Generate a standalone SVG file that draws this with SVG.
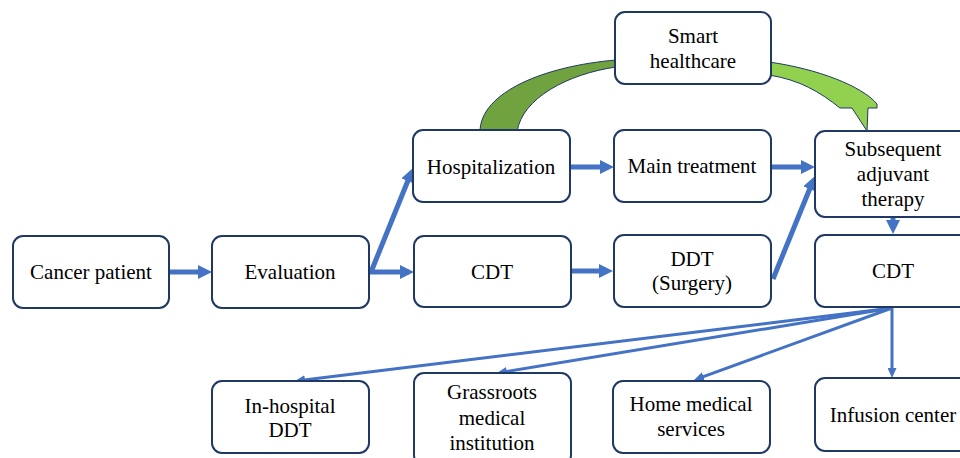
<svg xmlns="http://www.w3.org/2000/svg" width="960" height="458" viewBox="0 0 960 458">
<style>
.box{fill:#fff;stroke:#1F3864;stroke-width:2}
text{font-size:21px;fill:#000;text-anchor:middle}
.thick{stroke:#4472C4;stroke-width:5;fill:none}
.thin{stroke:#4472C4;stroke-width:3;fill:none}
.g1{fill:#70A33F;stroke:#1F3864;stroke-width:1}
.g2{fill:#92D050;stroke:#1F3864;stroke-width:1}
</style>
<defs>
<marker id="ah" markerUnits="userSpaceOnUse" markerWidth="14" markerHeight="14" refX="4" refY="7" orient="auto">
<path d="M0,0 L14,7 L0,14 z" fill="#4472C4"/>
</marker>
<marker id="as" markerUnits="userSpaceOnUse" markerWidth="10" markerHeight="9" refX="3" refY="4.5" orient="auto">
<path d="M0,0 L10,4.5 L0,9 z" fill="#4472C4"/>
</marker>
</defs>
<g id="connectors">
<path class="g1" d="M480,132 C480,92 545,66 616,60 L616,67 C568,74 522,98 517,132 Z"/>
<path class="g2" d="M769,62 C818,69 862,86 877,104 L877,108 L868,108 L867,131 L852,108 L840,108 C820,92 800,80 769,75 Z"/>
<line class="thick" x1="169" y1="272" x2="202" y2="272" marker-end="url(#ah)"/>
<line class="thick" x1="369" y1="272" x2="404" y2="272" marker-end="url(#ah)"/>
<line class="thick" x1="371" y1="272" x2="409.3" y2="177.3" marker-end="url(#ah)"/>
<line class="thick" x1="570" y1="167" x2="604" y2="167" marker-end="url(#ah)"/>
<line class="thick" x1="571" y1="271" x2="603" y2="271" marker-end="url(#ah)"/>
<line class="thick" x1="771" y1="167" x2="805" y2="167" marker-end="url(#ah)"/>
<line class="thick" x1="773" y1="279" x2="811.2" y2="185.3" marker-end="url(#ah)"/>
<line class="thick" x1="893" y1="217" x2="893" y2="224" marker-end="url(#ah)"/>
<line class="thin" x1="892" y1="308" x2="301.95" y2="380.16" marker-end="url(#as)"/>
<line class="thin" x1="892" y1="308" x2="503.9" y2="371.9" marker-end="url(#as)"/>
<line class="thin" x1="892" y1="308" x2="700.6" y2="377.6" marker-end="url(#as)"/>
<line class="thin" x1="892" y1="308" x2="892" y2="371" marker-end="url(#as)"/>
</g>
<g font-family="Liberation Serif, Times New Roman, serif">
<g id="cancer-patient"><rect class="box" x="13" y="236" width="156" height="72" rx="10"/><text x="91" y="279">Cancer patient</text></g>
<g id="evaluation"><rect class="box" x="212" y="236" width="157" height="72" rx="10"/><text x="290" y="279">Evaluation</text></g>
<g id="hospitalization"><rect class="box" x="413" y="130" width="157" height="72" rx="10"/><text x="491" y="174">Hospitalization</text></g>
<g id="cdt-mid"><rect class="box" x="414" y="236" width="157" height="71" rx="10"/><text x="492" y="279">CDT</text></g>
<g id="smart-healthcare"><rect class="box" x="615" y="12" width="156" height="72" rx="10"/><text x="693" y="43">Smart</text><text x="693" y="68">healthcare</text></g>
<g id="main-treatment"><rect class="box" x="614" y="130" width="157" height="72" rx="10"/><text x="692" y="173">Main treatment</text></g>
<g id="ddt-surgery"><rect class="box" x="614" y="235" width="157" height="72" rx="10"/><text x="692" y="266">DDT</text><text x="692" y="290">(Surgery)</text></g>
<g id="subsequent"><rect class="box" x="815" y="131" width="156" height="86" rx="10"/><text x="893" y="156">Subsequent</text><text x="893" y="181">adjuvant</text><text x="893" y="206">therapy</text></g>
<g id="cdt-right"><rect class="box" x="815" y="235" width="156" height="72" rx="10"/><text x="893" y="278">CDT</text></g>
<g id="in-hospital-ddt"><rect class="box" x="212" y="381" width="157" height="72" rx="10"/><text x="290" y="413">In-hospital</text><text x="290" y="437">DDT</text></g>
<g id="grassroots"><rect class="box" x="414" y="373" width="157" height="92" rx="10"/><text x="492" y="399">Grassroots</text><text x="492" y="425">medical</text><text x="492" y="450">institution</text></g>
<g id="home-medical"><rect class="box" x="613" y="381" width="157" height="72" rx="10"/><text x="691" y="411">Home medical</text><text x="691" y="436">services</text></g>
<g id="infusion-center"><rect class="box" x="815" y="378" width="156" height="73" rx="10"/><text x="893" y="422">Infusion center</text></g>
</g>
</svg>
